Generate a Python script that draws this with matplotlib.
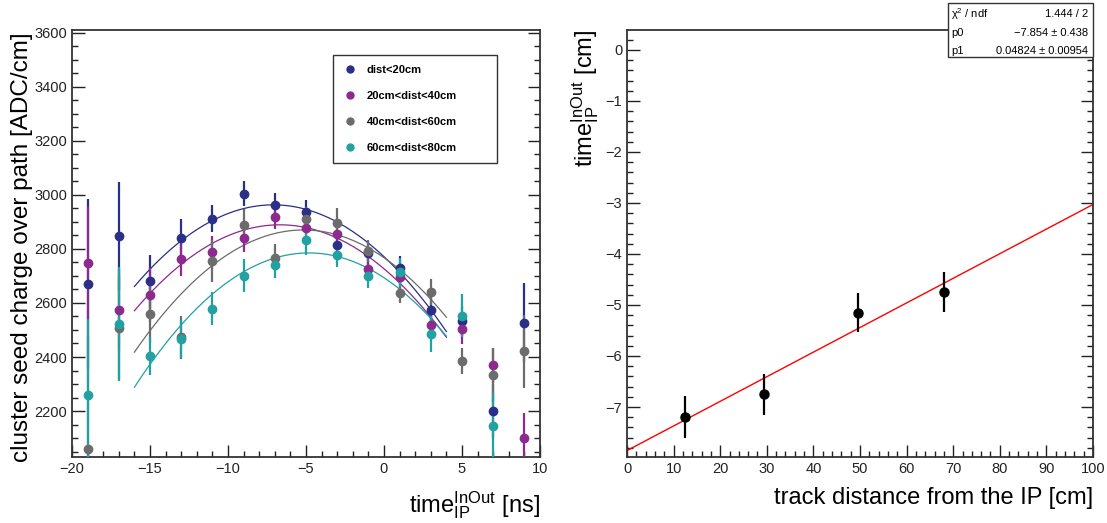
import numpy as np
import matplotlib
matplotlib.use("Agg")
import matplotlib.pyplot as plt
from matplotlib.lines import Line2D
from matplotlib.patches import Rectangle
from matplotlib.ticker import MultipleLocator

plt.rcParams['font.family'] = ['Liberation Sans', 'DejaVu Sans']
plt.rcParams['mathtext.fontset'] = 'custom'
plt.rcParams['mathtext.rm'] = 'Liberation Sans'
plt.rcParams['mathtext.it'] = 'Liberation Sans:italic'

# left panel: charge vs time, four distance bins
time_ns = [-19, -17, -15, -13, -11, -9, -7, -5, -3, -1, 1, 3, 5, 7, 9]

charge_d20 = [2669, 2847, 2680, 2840, 2911, 3005, 2964, 2937, 2814, 2783, 2729, 2574, 2533, 2201, 2527]
err_d20 = [315, 200, 98, 70, 50, 46, 43, 43, 50, 45, 45, 50, 55, 100, 147]

charge_d40 = [2746, 2573, 2628, 2762, 2787, 2842, 2919, 2877, 2857, 2725, 2695, 2520, 2503, 2370, 2102]
err_d40 = [210, 150, 100, 62, 60, 55, 45, 45, 45, 45, 50, 55, 56, 65, 92]

charge_d60 = [2059, 2506, 2560, 2473, 2754, 2889, 2768, 2909, 2897, 2793, 2638, 2639, 2386, 2333, 2421]
err_d60 = [420, 190, 110, 80, 78, 60, 50, 45, 55, 40, 38, 48, 48, 100, 135]

charge_d80 = [2259, 2523, 2404, 2468, 2579, 2701, 2739, 2834, 2778, 2698, 2713, 2485, 2553, 2143, np.nan]
err_d80 = [280, 210, 70, 70, 62, 60, 45, 57, 45, 43, 55, 65, 80, 125, np.nan]

# pol2 fit results (p0, p1, p2) per bin, fit range -16..4
fit_d20 = [2771.2, -54.07, -3.81]
fit_d40 = [2726.5, -48.76, -3.654]
fit_d60 = [2767.5, -39.74, -3.849]
fit_d80 = [2693.3, -38.19, -3.97]
fit_range = [-16, 4]

labels = ['dist<20cm', '20cm<dist<40cm', '40cm<dist<60cm', '60cm<dist<80cm']
colors = ['#2a2f88', '#8c2a8e', '#6c6c6c', '#21a1a1']

# right panel: time vs track distance
dist_cm = [12.5, 29.3, 49.5, 68.0]
t_inout = [-7.19, -6.75, -5.15, -4.74]
t_err = [0.41, 0.40, 0.38, 0.39]
p0, p0_err = -7.854, 0.438
p1, p1_err = 0.04824, 0.00954
chi2, ndf = 1.444, 2

W, H = 1107, 523
fig = plt.figure(figsize=(W / 100, H / 100), dpi=100)

def px(x0, y0, x1, y1):
    return [x0 / W, 1 - y1 / H, (x1 - x0) / W, (y1 - y0) / H]

ax1 = fig.add_axes(px(72, 30, 540, 457))
ax2 = fig.add_axes(px(627, 30, 1093, 457))

for ax in (ax1, ax2):
    for s in ax.spines.values():
        s.set_color('#333333')
        s.set_linewidth(1.3)
    ax.tick_params(which='both', direction='in', right=True, top=False,
                   labelsize=10.5, colors='#222222', width=1.0)
    ax.tick_params(which='major', length=9)
    ax.tick_params(which='minor', length=4.5)

series = [(charge_d20, err_d20, fit_d20), (charge_d40, err_d40, fit_d40),
          (charge_d60, err_d60, fit_d60), (charge_d80, err_d80, fit_d80)]

xf = np.linspace(fit_range[0], fit_range[1], 200)
for (vals, errs, fit), c in zip(series, colors):
    ax1.errorbar(time_ns, vals, yerr=errs, fmt='o', color=c, ms=6,
                 elinewidth=1.6, capsize=0, zorder=3)
    ax1.plot(xf, fit[0] + fit[1] * xf + fit[2] * xf ** 2, color=c, lw=0.9, zorder=2)

ax1.set_xlim(-20, 10)
ax1.set_ylim(2030, 3610)
ax1.xaxis.set_major_locator(MultipleLocator(5))
ax1.xaxis.set_minor_locator(MultipleLocator(1))
ax1.yaxis.set_major_locator(MultipleLocator(200))
ax1.yaxis.set_minor_locator(MultipleLocator(50))

handles = [Line2D([], [], marker='o', ls='', color=c, ms=5) for c in colors]
leg = ax1.legend(handles, labels, loc='upper left',
                 bbox_to_anchor=(0.558, 0.6885, 0.35, 0.253), mode='expand',
                 prop={'size': 8, 'weight': 'bold'}, frameon=True, fancybox=False,
                 edgecolor='#333333', framealpha=1, labelspacing=1.45,
                 borderpad=0.9, handlelength=1.2, handletextpad=0.9, borderaxespad=0)
leg.get_frame().set_linewidth(1.0)

# right panel
ax2.errorbar(dist_cm, t_inout, yerr=t_err, fmt='o', color='black', ms=6.5,
             elinewidth=1.6, capsize=0, zorder=3)
xl = np.linspace(0, 100, 2)
ax2.plot(xl, p0 + p1 * xl, color='red', lw=1.0, zorder=2)
ax2.set_xlim(0, 100)
ax2.set_ylim(-7.98, 0.39)
ax2.xaxis.set_major_locator(MultipleLocator(10))
ax2.xaxis.set_minor_locator(MultipleLocator(2))
ax2.yaxis.set_major_locator(MultipleLocator(1))
ax2.yaxis.set_minor_locator(MultipleLocator(0.2))

# axis titles
fig.text(22 / W, 1 - 247 / H, 'cluster seed charge over path [ADC/cm]',
         rotation=90, ha='center', va='center', fontsize=17.5)
fig.text(540 / W, 1 - 512 / H, r'time$_{\mathrm{IP}}^{\mathrm{InOut}}$ [ns]',
         ha='right', va='baseline', fontsize=17)
fig.text(585 / W, 1 - 30 / H, r'time$_{\mathrm{IP}}^{\mathrm{InOut}}$ [cm]',
         rotation=90, ha='center', va='top', fontsize=17)
fig.text(1093 / W, 1 - 504 / H, 'track distance from the IP [cm]',
         ha='right', va='baseline', fontsize=17)

# stats box
fig.patches.append(Rectangle((948 / W, 1 - 57 / H), 145 / W, 54 / H,
                             transform=fig.transFigure, facecolor='white',
                             edgecolor='#333333', lw=1.0, zorder=5))
rows = [('χ$^{2}$ / ndf', '%.3f / %d' % (chi2, ndf)),
        ('p0', '\u2212%.3f \u00b1 %.3f' % (abs(p0), p0_err)),
        ('p1', '%.5f \u00b1 %.5f' % (p1, p1_err))]
for i, (k, v) in enumerate(rows):
    yy = 1 - (14 + 18.5 * i) / H
    fig.text(951 / W, yy, k, ha='left', va='center', fontsize=8, zorder=6)
    fig.text(1088 / W, yy, v, ha='right', va='center', fontsize=8, zorder=6)

fig.savefig('out.png', dpi=100)
